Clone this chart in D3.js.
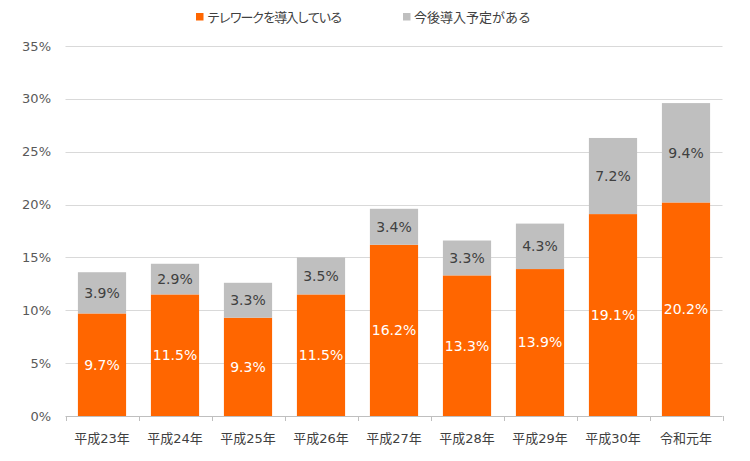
<!DOCTYPE html>
<html><head><meta charset="utf-8">
<script src="https://cdn.jsdelivr.net/npm/d3@7/dist/d3.min.js"></script>
<style>body{margin:0;background:#fff;}svg{display:block;}</style>
</head><body>
<svg id="c" width="750" height="461"></svg>
<script>
const categories = ["平成23年","平成24年","平成25年","平成26年","平成27年","平成28年","平成29年","平成30年","令和元年"];
const introduced = [9.7, 11.5, 9.3, 11.5, 16.2, 13.3, 13.9, 19.1, 20.2];
const planned = [3.9, 2.9, 3.3, 3.5, 3.4, 3.3, 4.3, 7.2, 9.4];
const seriesNames = ["テレワークを導入している","今後導入予定がある"];
const yTicks = [0,5,10,15,20,25,30,35];

const font = "'DejaVu Sans', 'Noto Sans CJK JP', sans-serif";
const svg = d3.select("#c");
const X0 = 65.5, X1 = 722.5;
const x = d3.scaleBand().domain(categories).range([X0, X1]).paddingInner(0.34).paddingOuter(0.17);
const y = d3.scaleLinear().domain([0, 35]).range([416, 46]);

// gridlines
svg.append("g").selectAll("line").data(yTicks.filter(d=>d>0)).join("line")
  .attr("x1", X0).attr("x2", X1).attr("y1", d=>Math.round(y(d))+0.5).attr("y2", d=>Math.round(y(d))+0.5)
  .attr("stroke", "#d9d9d9").attr("stroke-width", 1);

// y labels
svg.append("g").selectAll("text").data(yTicks).join("text")
  .attr("x", 51).attr("y", d=>y(d)).attr("dy","0.35em").attr("text-anchor","end")
  .attr("font-family", font).attr("font-size", 13).attr("fill", "#595959")
  .text(d=>d+"%");

const colors = ["#FF6600", "#BFBFBF"];
const data = categories.map((c,i)=>({c, a:introduced[i], b:planned[i]}));

// introduced bars
svg.append("g").selectAll("rect").data(data).join("rect")
  .attr("x", d=>x(d.c)).attr("width", x.bandwidth())
  .attr("y", d=>y(d.a)).attr("height", d=>y(0)-y(d.a))
  .attr("fill", colors[0]);
// planned bars
svg.append("g").selectAll("rect").data(data).join("rect")
  .attr("x", d=>x(d.c)).attr("width", x.bandwidth())
  .attr("y", d=>y(d.a+d.b)).attr("height", d=>y(d.a)-y(d.a+d.b))
  .attr("fill", colors[1]);

// labels
svg.append("g").selectAll("text").data(data).join("text")
  .attr("x", d=>x(d.c)+x.bandwidth()/2).attr("y", d=>y(d.a/2)).attr("dy","0.35em")
  .attr("text-anchor","middle").attr("font-family", font).attr("font-size", 14).attr("fill","#fff")
  .text(d=>d.a.toFixed(1)+"%");
svg.append("g").selectAll("text").data(data).join("text")
  .attr("x", d=>x(d.c)+x.bandwidth()/2).attr("y", d=>y(d.a+d.b/2)).attr("dy","0.35em")
  .attr("text-anchor","middle").attr("font-family", font).attr("font-size", 14).attr("fill","#404040")
  .text(d=>d.b.toFixed(1)+"%");

// x axis
const ax = svg.append("g");
ax.append("line").attr("x1",X0).attr("x2",X1).attr("y1",416.5).attr("y2",416.5).attr("stroke","#bfbfbf");
const bounds = d3.range(categories.length+1).map(i=>X0 + i*x.step());
ax.selectAll("line.t").data(bounds).join("line").attr("class","t")
  .attr("x1",d=>Math.round(d)+0.5).attr("x2",d=>Math.round(d)+0.5).attr("y1",416).attr("y2",421).attr("stroke","#bfbfbf");
ax.selectAll("text").data(categories).join("text")
  .attr("x", d=>x(d)+x.bandwidth()/2).attr("y", 438).attr("dy","0.35em").attr("text-anchor","middle")
  .attr("font-family", font).attr("font-size", 13).attr("fill","#404040").text(d=>d);

// legend
const lg = svg.append("g");
const lx = [196, 403];
const ls = [-1.8, 0];
seriesNames.forEach((n,i)=>{
  lg.append("rect").attr("x", lx[i]).attr("y", 13).attr("width", 7.5).attr("height", 7.5).attr("fill", colors[i]);
  lg.append("text").attr("x", lx[i]+11).attr("y", 17).attr("dy","0.35em").attr("font-family", font)
    .attr("font-size", 13).attr("letter-spacing", ls[i]).attr("fill","#404040").text(n);
});
</script>
</body></html>
